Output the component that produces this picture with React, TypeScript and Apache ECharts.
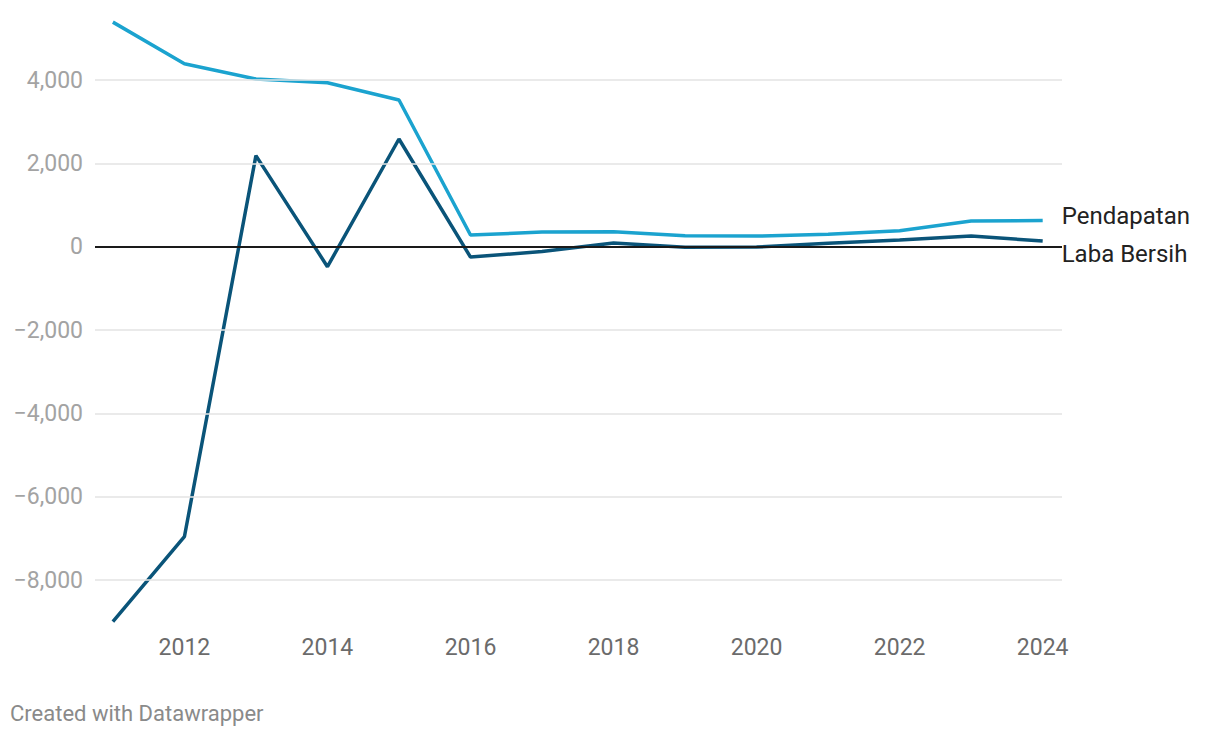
import React, { useEffect, useRef } from "react";
import * as echarts from "echarts";

const years = [2011, 2012, 2013, 2014, 2015, 2016, 2017, 2018, 2019, 2020, 2021, 2022, 2023, 2024];
const pendapatan = [5390, 4390, 4025, 3935, 3520, 280, 350, 360, 265, 255, 300, 385, 615, 630];
const labaBersih = [-9000, -6960, 2185, -480, 2585, -250, -115, 90, -15, -10, 80, 160, 255, 135];
const yTicks = [4000, 2000, 0, -2000, -4000, -6000, -8000];
const xTicks = [2012, 2014, 2016, 2018, 2020, 2022, 2024];

const FONT = "Roboto, 'Noto Sans', sans-serif";

export default function App() {
  const ref = useRef<HTMLDivElement>(null);
  useEffect(() => {
    const chart = echarts.init(ref.current!, null, { renderer: "svg" });
    const gridLines = yTicks
      .filter((v) => v !== 0)
      .map((v) => ({ yAxis: v, lineStyle: { color: "#e3e3e3", width: 1.5, type: "solid" } }));
    chart.setOption({
      animation: false,
      backgroundColor: "#ffffff",
      textStyle: { fontFamily: FONT },
      grid: { left: 95, right: 158, top: 21.7, height: 600 },
      xAxis: {
        type: "value",
        min: 2010.75,
        max: 2024.27,
        splitLine: { show: false },
        axisLine: { show: false },
        axisTick: { show: false },
        axisLabel: {
          customValues: xTicks,
          color: "#6b6b6b",
          fontSize: 23,
          fontFamily: FONT,
          margin: 14,
          formatter: (v: number) => String(v),
        },
      },
      yAxis: {
        type: "value",
        min: -9000,
        max: 5400,
        splitLine: { show: false },
        axisLine: { show: false },
        axisTick: { show: false },
        axisLabel: {
          customValues: yTicks,
          color: "#a3a3a3",
          fontSize: 23,
          fontFamily: FONT,
          margin: 12,
          formatter: (v: number) =>
            (v < 0 ? "\u2212" : "") + Math.abs(v).toLocaleString("en-US"),
        },
      },
      series: [
        {
          name: "grid",
          type: "line",
          data: [],
          silent: true,
          markLine: {
            silent: true,
            symbol: "none",
            label: { show: false },
            data: [
              ...gridLines,
              { yAxis: 0, lineStyle: { color: "#1a1a1a", width: 2, type: "solid" } },
            ],
          },
          z: 1,
        },
        {
          name: "Pendapatan",
          type: "line",
          data: years.map((y, i) => [y, pendapatan[i]]),
          showSymbol: false,
          symbol: "none",
          lineStyle: { color: "#1ba3cf", width: 3.5 },
          itemStyle: { color: "#1ba3cf" },
          z: 3,
          endLabel: {
            show: true,
            formatter: "Pendapatan",
            color: "#222222",
            fontSize: 24,
            fontFamily: FONT,
            distance: 19,
            offset: [0, -4],
          },
        },
        {
          name: "Laba Bersih",
          type: "line",
          data: years.map((y, i) => [y, labaBersih[i]]),
          showSymbol: false,
          symbol: "none",
          lineStyle: { color: "#0a5479", width: 3.5 },
          itemStyle: { color: "#0a5479" },
          z: 4,
          endLabel: {
            show: true,
            formatter: "Laba Bersih",
            color: "#222222",
            fontSize: 24,
            fontFamily: FONT,
            distance: 19,
            offset: [0, 13],
          },
        },
      ],
      graphic: [
        {
          type: "text",
          left: 10,
          top: 702,
          style: {
            text: "Created with Datawrapper",
            fill: "#8a8a8a",
            fontSize: 22,
            fontFamily: FONT,
          },
        },
      ],
    });
    return () => chart.dispose();
  }, []);
  return (
    <div
      ref={ref}
      style={{ position: "fixed", left: 0, top: 0, width: 1220, height: 738, background: "#fff" }}
    />
  );
}
